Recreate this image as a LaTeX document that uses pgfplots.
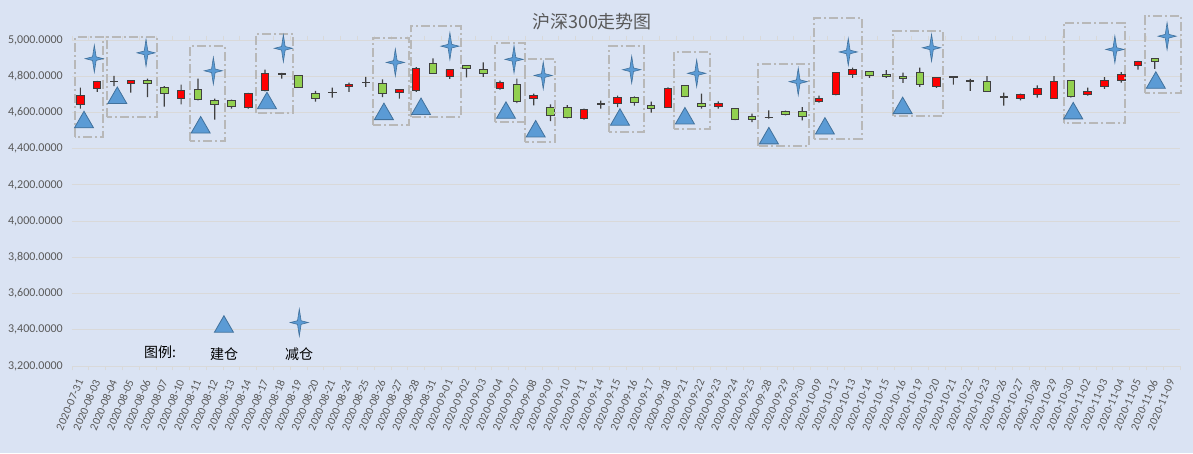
\documentclass[border=0pt]{standalone}
\usepackage{pgfplots}
\pgfplotsset{compat=1.18}
\usepackage{pgfplotstable}
\usepackage{fontspec}
\setmainfont{Carlito}
\newfontfamily\cjk{Noto Sans CJK SC}
\definecolor{bg}{HTML}{DAE3F3}
\definecolor{gridc}{HTML}{D9D9D9}
\definecolor{tickc}{HTML}{595959}
\definecolor{wickc}{HTML}{404040}
\definecolor{edgec}{HTML}{404040}
\definecolor{upc}{HTML}{FF0000}
\definecolor{downc}{HTML}{92D050}
\definecolor{markc}{HTML}{5B9BD5}
\definecolor{markedge}{HTML}{41719C}
\definecolor{boxc}{HTML}{B8B8B8}

\pgfdeclareplotmark{tri}{%
  \pgfpathmoveto{\pgfqpoint{0pt}{8.25pt}}%
  \pgfpathlineto{\pgfqpoint{9.5pt}{-8.25pt}}%
  \pgfpathlineto{\pgfqpoint{-9.5pt}{-8.25pt}}%
  \pgfpathclose
  \pgfusepathqfillstroke}
\pgfdeclareplotmark{star4}{%
  \pgfpathmoveto{\pgfqpoint{0pt}{13.5pt}}%
  \pgfpathlineto{\pgfqpoint{1.8pt}{1.8pt}}%
  \pgfpathlineto{\pgfqpoint{9pt}{0pt}}%
  \pgfpathlineto{\pgfqpoint{1.8pt}{-1.8pt}}%
  \pgfpathlineto{\pgfqpoint{0pt}{-13.5pt}}%
  \pgfpathlineto{\pgfqpoint{-1.8pt}{-1.8pt}}%
  \pgfpathlineto{\pgfqpoint{-9pt}{0pt}}%
  \pgfpathlineto{\pgfqpoint{-1.8pt}{1.8pt}}%
  \pgfpathclose
  \pgfusepathqfillstroke}

\pgfplotstableread{
i o h l c
0 4646 4737 4621 4695
1 4732 4774 4713 4772
2 4771 4802 4745 4773
3 4760 4778 4710 4776
4 4776 4787 4685 4760
5 4737 4745 4632 4704
6 4676 4754 4645 4721
7 4726 4787 4667 4674
8 4665 4676 4560 4643
9 4667 4671 4621 4632
10 4627 4708 4621 4704
11 4722 4837 4717 4815
12 4811 4818 4787 4813
13 4804 4806 4735 4737
14 4704 4719 4660 4676
15 4710 4737 4682 4712
16 4741 4765 4713 4754
17 4764 4796 4741 4766
18 4760 4782 4685 4704
19 4713 4728 4676 4726
20 4722 4850 4713 4843
21 4870 4898 4815 4815
22 4796 4837 4785 4837
23 4859 4861 4793 4843
24 4837 4876 4796 4815
25 4732 4776 4726 4765
26 4754 4787 4652 4661
27 4680 4704 4639 4693
28 4630 4645 4552 4584
29 4627 4641 4567 4575
30 4569 4621 4560 4619
31 4646 4665 4621 4648
32 4649 4693 4630 4685
33 4682 4689 4637 4654
34 4638 4660 4599 4624
35 4630 4738 4626 4732
36 4748 4750 4685 4687
37 4649 4704 4621 4632
38 4635 4661 4621 4650
39 4621 4623 4558 4560
40 4577 4593 4547 4563
41 4572 4612 4566 4574
42 4604 4610 4584 4588
43 4604 4630 4556 4578
44 4658 4693 4654 4676
45 4700 4822 4694 4820
46 4809 4848 4791 4837
47 4826 4828 4791 4802
48 4811 4833 4791 4796
49 4798 4820 4763 4785
50 4820 4848 4741 4752
51 4746 4795 4735 4793
52 4795 4798 4754 4797
53 4773 4785 4719 4775
54 4772 4800 4713 4715
55 4684 4710 4638 4686
56 4676 4704 4667 4699
57 4699 4749 4682 4732
58 4680 4800 4675 4772
59 4776 4778 4682 4691
60 4699 4737 4693 4717
61 4741 4795 4730 4776
62 4776 4822 4765 4809
63 4859 4885 4837 4883
64 4898 4900 4841 4881
}\ohlc

\pgfplotstableread{
x y
0.215 4561
2.198 4695
7.165 4532
11.114 4666
18.08 4606
20.29 4634
25.35 4613
27.12 4510
32.14 4575
36.01 4582
41.01 4472
44.35 4526
48.98 4639
59.14 4610
64.06 4779
8.55 3432
}\buy

\pgfplotstableread{
x y
0.83 4897
3.91 4929
7.92 4830
12.09 4954
18.76 4876
22.01 4966
25.83 4893
27.57 4804
32.84 4836
36.71 4816
42.76 4770
45.74 4934
50.70 4957
61.62 4948
64.73 5021
13.04 3440
}\sell

\pgfplotsset{base/.style={at={(0pt,0pt)}, anchor=south west, scale only axis,
  width=1108pt, height=326pt, xmin=-0.5, xmax=65.5, ymin=3200, ymax=5000, clip=false}}

\begin{document}
\begin{tikzpicture}
\fill[bg] (-72pt,-87pt) rectangle (1121pt,366pt);
\begin{axis}[base,
  axis line style={draw=none},
  ytick={3200,3400,...,5000},
  ymajorgrids, grid style={gridc, line width=0.8pt},
  scaled y ticks=false,
  xtick={0,...,65},
  xticklabels={2020-07-31,2020-08-03,2020-08-04,2020-08-05,2020-08-06,2020-08-07,2020-08-10,2020-08-11,2020-08-12,2020-08-13,2020-08-14,2020-08-17,2020-08-18,2020-08-19,2020-08-20,2020-08-21,2020-08-24,2020-08-25,2020-08-26,2020-08-27,2020-08-28,2020-08-31,2020-09-01,2020-09-02,2020-09-03,2020-09-04,2020-09-07,2020-09-08,2020-09-09,2020-09-10,2020-09-11,2020-09-14,2020-09-15,2020-09-16,2020-09-17,2020-09-18,2020-09-21,2020-09-22,2020-09-23,2020-09-24,2020-09-25,2020-09-28,2020-09-29,2020-09-30,2020-10-09,2020-10-12,2020-10-13,2020-10-14,2020-10-15,2020-10-16,2020-10-19,2020-10-20,2020-10-21,2020-10-22,2020-10-23,2020-10-26,2020-10-27,2020-10-28,2020-10-29,2020-10-30,2020-11-02,2020-11-03,2020-11-04,2020-11-05,2020-11-06,2020-11-09},
  minor xtick={-0.5,0.5,...,65.5},
  tick align=outside,
  major tick length=0pt,
  minor tick length=4pt,
  minor tick style={gridc, line width=0.8pt},
  yticklabel style={font=\fontsize{12}{14}\selectfont, text=tickc, anchor=east, inner sep=0pt, xshift=-9pt,
    /pgf/number format/.cd, fixed, fixed zerofill, precision=4, 1000 sep={,}, assume math mode=true},
  xticklabel style={font=\fontsize{11.5}{14}\selectfont, text=tickc, rotate=67, anchor=east, inner sep=0pt},
  xticklabel shift=14pt,
]
\addplot[draw=none] coordinates {(0,4000)};
\end{axis}
% wicks
\begin{axis}[base, hide axis, ybar stacked, bar width=1.2pt]
\addplot[draw=none, fill=none] table[x=i, y=l] {\ohlc};
\addplot[draw=none, fill=wickc] table[x=i, y expr=\thisrow{h}-\thisrow{l}] {\ohlc};
\end{axis}
% bodies
\begin{axis}[base, hide axis, ybar stacked, bar width=7.5pt]
\addplot[draw=none, fill=none] table[x=i, y expr={min(\thisrow{o},\thisrow{c})}] {\ohlc};
\addplot[fill=upc, draw=edgec, line width=0.9pt] table[x=i, y expr={max(\thisrow{c}-\thisrow{o},0)}] {\ohlc};
\addplot[fill=downc, draw=edgec, line width=0.9pt] table[x=i, y expr={max(\thisrow{o}-\thisrow{c},0)}] {\ohlc};
\end{axis}
% markers and boxes
\begin{axis}[base, hide axis]
\begin{scope}[boxc, line width=2pt, dash pattern=on 9pt off 3pt on 2pt off 3pt]
\draw (axis cs:-0.321,4466) rectangle (axis cs:1.364,5015);
\draw (axis cs:1.567,4573) rectangle (axis cs:4.545,5015);
\draw (axis cs:6.528,4442) rectangle (axis cs:8.613,4967);
\draw (axis cs:10.459,4595) rectangle (axis cs:12.68,5031);
\draw (axis cs:17.41,4531) rectangle (axis cs:19.59,5009);
\draw (axis cs:19.67,4573) rectangle (axis cs:22.65,5077);
\draw (axis cs:24.68,4549) rectangle (axis cs:26.5,4982);
\draw (axis cs:26.5,4438) rectangle (axis cs:28.27,4893);
\draw (axis cs:31.5,4494) rectangle (axis cs:33.57,4967);
\draw (axis cs:35.35,4509) rectangle (axis cs:37.5,4935);
\draw (axis cs:40.38,4416) rectangle (axis cs:43.40,4866);
\draw (axis cs:43.69,4453) rectangle (axis cs:46.55,5120);
\draw (axis cs:48.42,4580) rectangle (axis cs:51.36,5051);
\draw (axis cs:58.58,4540) rectangle (axis cs:62.22,5096);
\draw (axis cs:63.41,4709) rectangle (axis cs:65.55,5134);
\end{scope}
\addplot[only marks, mark=tri, mark options={fill=markc, draw=markedge, line width=0.8pt, solid}] table[x=x, y=y] {\buy};
\addplot[only marks, mark=star4, mark options={fill=markc, draw=markedge, line width=0.6pt, solid}] table[x=x, y=y] {\sell};
\end{axis}
\node[font=\cjk\fontsize{18}{20}\selectfont, text=tickc] at (520pt,344pt) {沪深300走势图};
\node[font=\cjk\fontsize{14}{16}\selectfont, text=black] at (88pt,13.5pt) {图例:};
\node[font=\cjk\fontsize{14}{16}\selectfont, text=black] at (152pt,11.5pt) {建仓};
\node[font=\cjk\fontsize{14}{16}\selectfont, text=black] at (227pt,11.5pt) {减仓};
\pgfresetboundingbox
\path[use as bounding box] (-72pt,-87pt) rectangle (1121pt,366pt);
\end{tikzpicture}
\end{document}
